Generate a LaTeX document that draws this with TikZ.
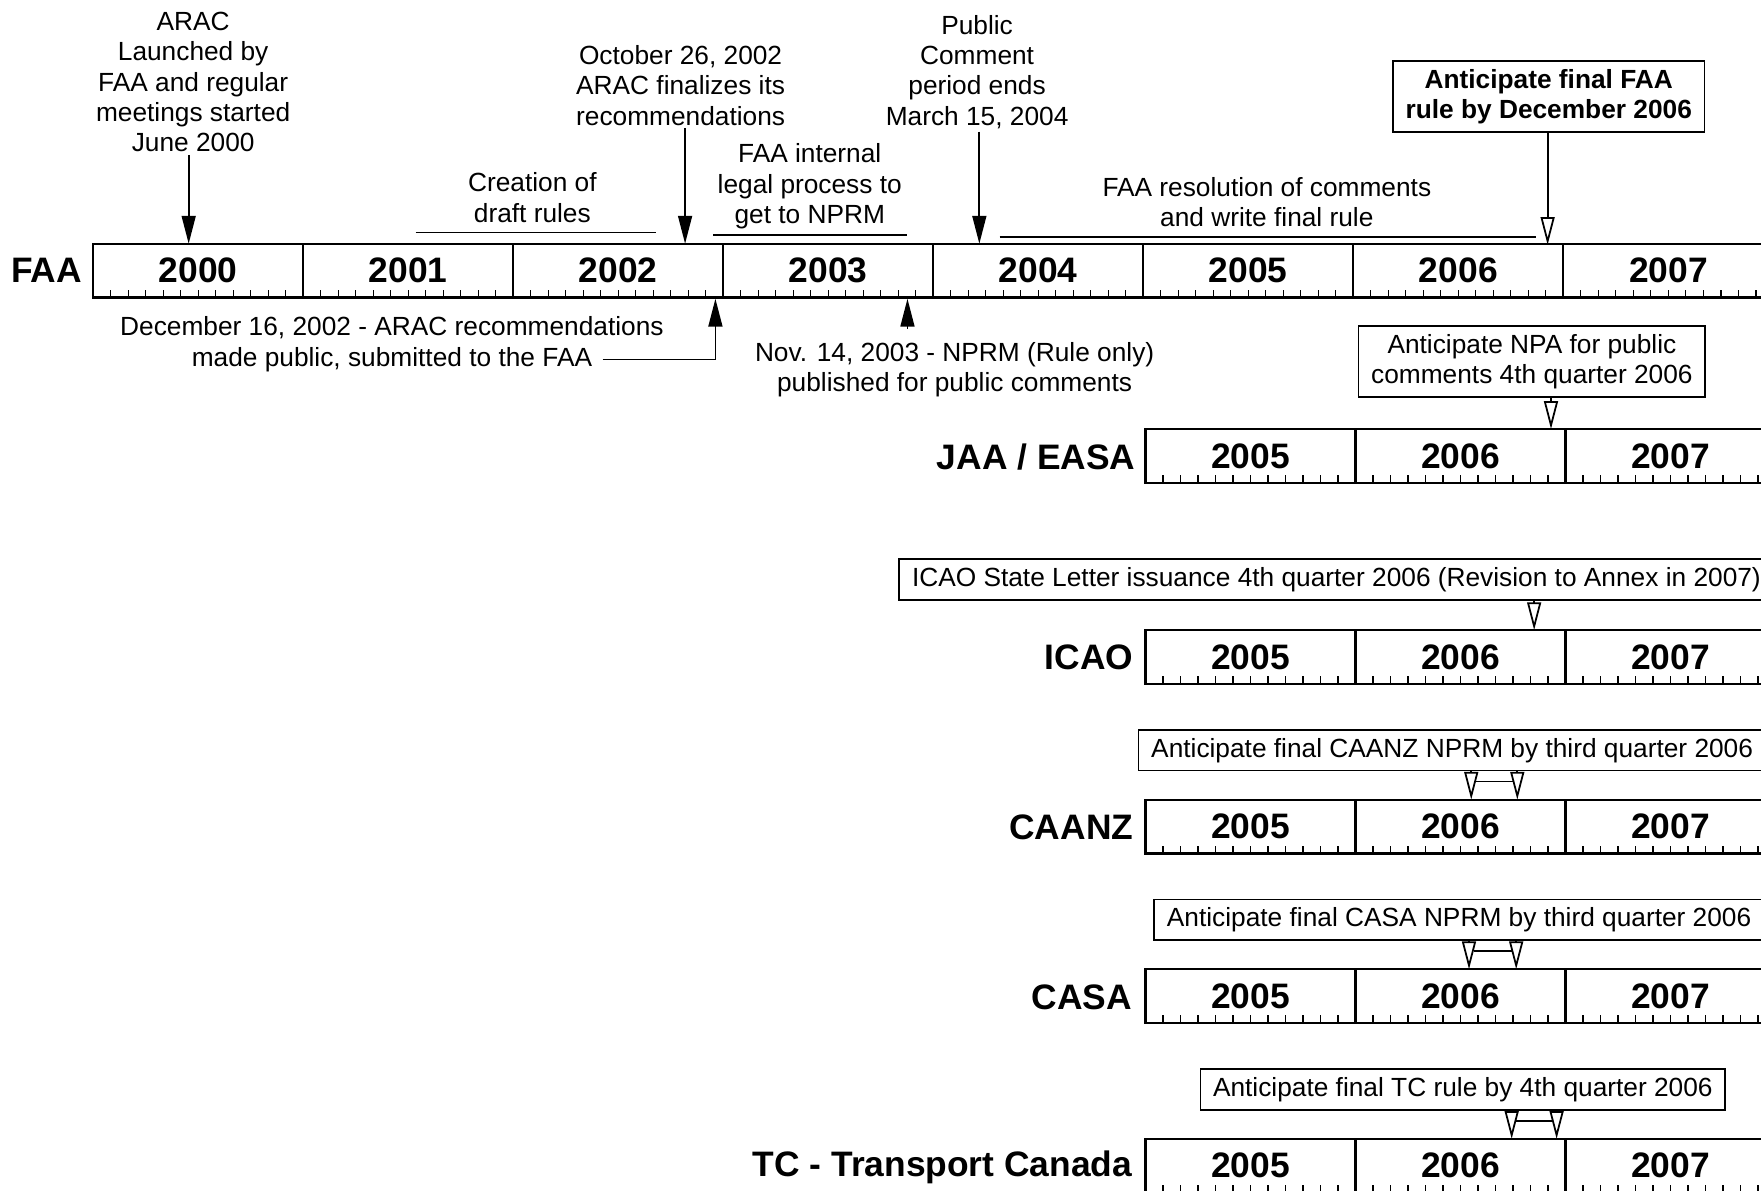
\documentclass[tikz,border=0pt]{standalone}
\usepackage{fontspec}
\setmainfont{Liberation Sans}
\usetikzlibrary{arrows.meta,calc,positioning}

\tikzset{
  yearbar/.style={draw, line width=0.9pt},
  yr/.style={font=\fontsize{14}{16}\selectfont\bfseries},
  agency/.style={anchor=east, font=\fontsize{14}{16}\selectfont\bfseries},
  note/.style={align=center, font=\fontsize{10.4}{12}\selectfont, inner sep=1pt},
  notebox/.style={note, draw, line width=0.7pt, inner xsep=5pt, inner ysep=3.2pt},
  monthtick/.style={line width=0.5pt},
  span/.style={line width=0.7pt},
  fullhead/.style={-{Triangle[length=11pt,width=5.5pt]}, line width=0.7pt},
  openhead/.style={-{Triangle[open,length=11pt,width=5.5pt]}, line width=0.7pt},
}

\begin{document}
\begin{tikzpicture}[x=0.4444pt, y=-0.4444pt]
\clip (0,0) rectangle (1568,1060);

% FAA timeline
\foreach \yr [count=\i from 0] in {2000,...,2007}
  \draw[yearbar] ({83+187*\i},217) rectangle ({270+187*\i},265) node[pos=.5,yr] (faa\yr) {\yr};
\foreach \t in {1,...,95}
  \draw[monthtick] ({83+15.5833*\t},265) -- ++(0,-7);
\node[agency] (faa) at (81,241) {FAA};

% the other authorities, 2005 - 2007
\foreach \ag/\ty in {jaa/382,icao/561,caanz/712,casa/863,tc/1014} {
  \foreach \yr [count=\i from 0] in {2005,2006,2007}
    \draw[yearbar] ({1020+187*\i},\ty) rectangle ({1207+187*\i},{\ty+48}) node[pos=.5,yr] (\ag\yr) {\yr};
  \foreach \t in {1,...,35}
    \draw[monthtick] ({1020+15.5833*\t},{\ty+48}) -- ++(0,-7);
}
\node[agency] (jaa) at (1019,407) {JAA / EASA};
\node[agency] (icao) at (1017,585) {ICAO};
\node[agency] (caanz) at (1017,737) {CAANZ};
\node[agency] (casa) at (1016,888) {CASA};
\node[agency] (tc) at (1016,1039) {TC - Transport Canada};

% events above the FAA line
\node[note] (arac) at (172,73) {ARAC\\Launched by\\FAA and regular\\meetings started\\June 2000};
\coordinate (jun00) at (168,217);
\draw[fullhead] (arac.south -| jun00) -- (jun00);

\node[note] (draft) at (474,176) {Creation of\\draft rules};
\draw[span] (370,207) -- (584,207);

\node[note] (oct02) at (606,76) {October 26, 2002\\ARAC finalizes its\\recommendations};
\coordinate (oct26) at (610,217);
\draw[fullhead] (oct02.south -| oct26) -- (oct26);

\node[note] (legal) at (721,166) {FAA internal\\legal process to\\get to NPRM};
\draw[span] (635,209) -- (808,209);

\node[note] (pubc) at (870,64) {Public\\Comment\\period ends\\March 15, 2004};
\coordinate (mar04) at (872,217);
\draw[fullhead] (pubc.south -| mar04) -- (mar04);

\node[note] (resol) at (1128,180) {FAA resolution of comments\\and write final rule};
\draw[span] (890,211) -- (1368,211);

\node[notebox, font=\fontsize{10.4}{12}\selectfont\bfseries] (faafinal) at (1379,86) {Anticipate final FAA\\rule by December 2006};
\coordinate (dec06) at (1378,218);
\draw[openhead] (faafinal.south -| dec06) -- (dec06);

% events below the FAA line
\node[note] (dec02) at (349,292) {December 16, 2002 - ARAC recommendations};
\node[note] (dec02b) at (349,320) {made public, submitted to the FAA};
\coordinate (dec16) at (637,266);
\draw[fullhead] ([xshift=3pt]dec02b.east) -| (dec16);

\node[note] (nov03) at (850,329) {Nov. 14, 2003 - NPRM (Rule only)\\published for public comments};
\coordinate (nov14) at (808,266);
\draw[fullhead, shorten <=4pt] (nov03.north -| nov14) -- (nov14);

% anticipated dates
\node[notebox] (jaanpa) at (1364,322) {Anticipate NPA for public\\comments 4th quarter 2006};
\coordinate (jaa4q) at (1381,382);
\draw[openhead] (jaanpa.south -| jaa4q) -- (jaa4q);

\node[notebox, anchor=west] (icaosl) at (800,516) {ICAO State Letter issuance 4th quarter 2006 (Revision to Annex in 2007)};
\coordinate (icao4q) at (1366,561);
\draw[openhead] (icaosl.south -| icao4q) -- (icao4q);

\node[notebox, anchor=west] (caanzbox) at (1013,668) {Anticipate final CAANZ NPRM by third quarter 2006};
\node[notebox, anchor=west] (casabox) at (1027,819) {Anticipate final CASA NPRM by third quarter 2006};
\node[notebox, anchor=east] (tcbox) at (1537,970) {Anticipate final TC rule by 4th quarter 2006};

\foreach \bx/\xl/\xr/\ty in {caanzbox/1310/1351/712, casabox/1308/1350/863, tcbox/1346/1386/1014} {
  \coordinate (\bx-l) at (\xl,\ty);
  \coordinate (\bx-r) at (\xr,\ty);
  \draw[openhead] (\bx.south -| \bx-l) -- (\bx-l);
  \draw[openhead] (\bx.south -| \bx-r) -- (\bx-r);
  \draw[span] ($(\bx.south -| \bx-l)+(4,9)$) -- ($(\bx.south -| \bx-r)+(-4,9)$);
}
\end{tikzpicture}
\end{document}
